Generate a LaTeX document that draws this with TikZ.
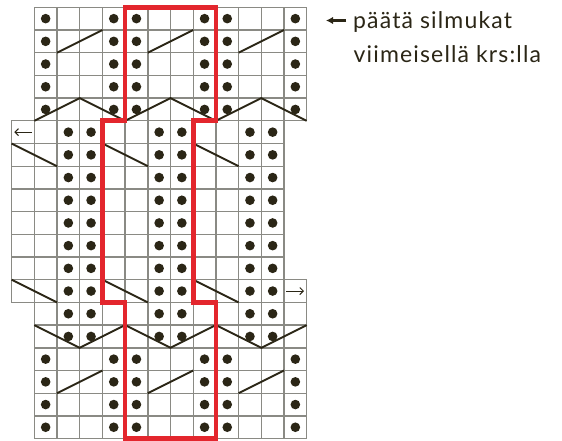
\documentclass[tikz,border=0pt]{standalone}
\usepackage{fontspec}
\setmainfont{Lato}
\newfontfamily\labelfont[LetterSpace=5]{Lato}
\usetikzlibrary{arrows.meta}
\definecolor{gridc}{HTML}{8A8A84}
\definecolor{ink}{HTML}{2B2616}
\definecolor{redc}{HTML}{E3262D}
\tikzset{
  gridline/.style={draw=gridc, line width=1.4pt},
  purl/.style={fill=ink},
  cable/.style={draw=ink, line width=1.9pt},
  outline/.style={draw=redc, line width=4.6pt, line join=miter},
  rowarrow/.style={draw=ink, line width=1pt, -{Straight Barb[length=3.5pt,width=7pt]}},
  label/.style={font=\labelfont\fontsize{23}{27}\selectfont, text=ink, inner sep=0pt, anchor=base west}
}
\begin{document}
\begin{tikzpicture}[x=1pt,y=-1pt]
\useasboundingbox (0,0) rectangle (562,441);
\fill[white] (0,0) rectangle (562,441);
\begin{scope}[shift={(34.3pt,-7.3pt)}, x=22.7pt, y=-22.7pt]
  % grid cells
  \foreach \r in {0,...,4}{\foreach \c in {0,...,11}{\draw[gridline] (\c,\r) rectangle ++(1,1);}}
  \foreach \r in {5,...,11}{\foreach \c in {-1,...,10}{\draw[gridline] (\c,\r) rectangle ++(1,1);}}
  \foreach \c in {-1,...,11}{\draw[gridline] (\c,12) rectangle ++(1,1);}
  \foreach \r in {13,...,18}{\foreach \c in {0,...,11}{\draw[gridline] (\c,\r) rectangle ++(1,1);}}
  % purl dots
  \foreach \r in {0,...,4,15,16,17,18}{\foreach \c in {0,3,4,7,8,11}{\fill[purl] (\c+0.5,\r+0.5) circle[radius=4.8pt];}}
  \foreach \r in {5,...,14}{\foreach \c in {1,2,5,6,9,10}{\fill[purl] (\c+0.5,\r+0.5) circle[radius=4.8pt];}}
  % cables
  \foreach \c in {1,5,9}{\draw[cable] (\c,2) -- (\c+2,1); \draw[cable] (\c,17) -- (\c+2,16);}
  \foreach \c in {-1,3,7}{\draw[cable] (\c,6) -- (\c+2,7); \draw[cable] (\c,12) -- (\c+2,13);}
  \draw[cable] (0,5) -- (2,4) -- (4,5) -- (6,4) -- (8,5) -- (10,4) -- (12,5);
  \draw[cable] (0,14) -- (2,15) -- (4,14) -- (6,15) -- (8,14) -- (10,15) -- (12,14);
  % row arrows
  \coordinate (la1) at (-0.1,5.5); \coordinate (la2) at (-0.88,5.5);
  \coordinate (ra1) at (11.1,12.5); \coordinate (ra2) at (11.88,12.5);
  \draw[rowarrow] (la1) -- (la2);
  \draw[rowarrow] (ra1) -- (ra2);
  % red outline
  \draw[outline] (4,0) -- (4,5) -- (3,5) -- (3,13) -- (4,13) -- (4,19) -- (8,19) -- (8,13) -- (7,13) -- (7,5) -- (8,5) -- (8,0) -- cycle;
\end{scope}
% label
\coordinate (p1) at (346,20.5);
\coordinate (p2) at (326,20.5);
\draw[draw=ink, line width=2.3pt, -{Latex[length=7pt,width=7.5pt]}] (p1) -- (p2);
\node[label] (t1) at (353,29) {päätä silmukat};
\node[label] (t2) at (353.5,62.3) {viimeisellä krs:lla};
\end{tikzpicture}
\end{document}
